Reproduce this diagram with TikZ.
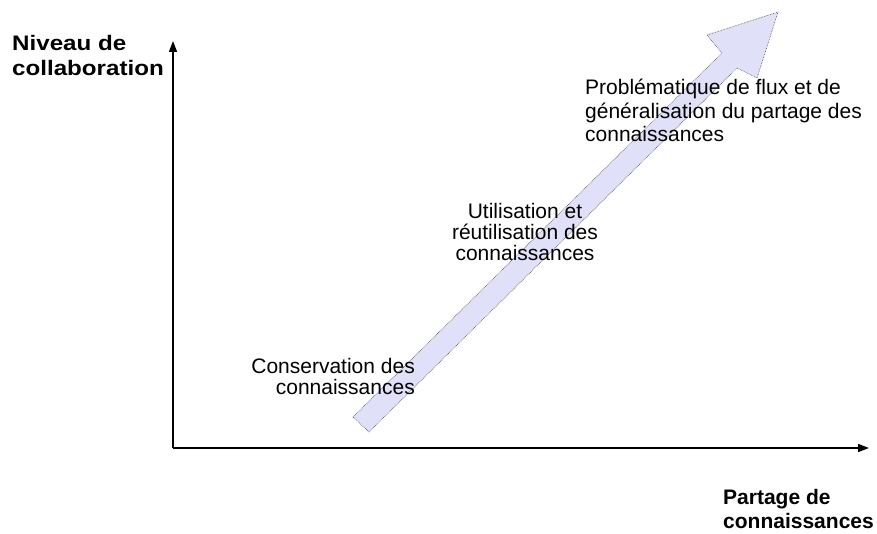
\documentclass[tikz,border=0pt]{standalone}
\usepackage{fontspec}
\setmainfont{Liberation Sans}
\newfontfamily\wideaxisfont{Liberation Sans}[FakeStretch=1.15]
\usetikzlibrary{arrows.meta}

\definecolor{bandfill}{RGB}{224,224,248}
\definecolor{bandline}{RGB}{70,70,70}

\tikzset{
    axis/.style={line width=1.6pt, -{Triangle[length=11pt,width=8pt]}},
    axislabel/.style={inner sep=0pt, anchor=north west, align=left,
        font=#1\bfseries\fontsize{21}{24.5}\selectfont},
    axislabel/.default={},
    stage/.style={inner sep=0pt, font=\fontsize{21}{21}\selectfont}
}

\begin{document}
\begin{tikzpicture}[x=1pt,y=-1pt]
    \useasboundingbox (0,0) rectangle (877,534);
    % the broad arrow
    \coordinate (tailL) at (353,417);
    \coordinate (tailR) at (369,432);
    \coordinate (shaftL) at (722,53);
    \coordinate (shaftR) at (737,68);
    \coordinate (barbL) at (707,35);
    \coordinate (barbR) at (757,78);
    \coordinate (tip) at (778,12);
    \filldraw[fill=bandfill, draw=bandline, densely dotted, line width=0.6pt]
        (tailL) -- (shaftL) -- (barbL) -- (tip) -- (barbR) -- (shaftR) -- (tailR) -- cycle;
    % axes
    \coordinate (origin) at (173,448);
    \coordinate (ytop) at (173,41);
    \coordinate (xend) at (869,448);
    \draw[axis] (origin) -- (ytop);
    \draw[axis] (origin) -- (xend);
    \node[axislabel=\wideaxisfont] (ylab) at (12,35.5) {Niveau de\\collaboration};
    \node[axislabel] (xlab) at (723,489) {Partage de\\connaissances};
    % stages
    \node[stage, anchor=north east, align=right] (keep) at (415,358.5)
        {Conservation des\\connaissances};
    \node[stage, anchor=north, align=center] (reuse) at (525,203.5)
        {Utilisation et\\réutilisation des\\connaissances};
    \node[stage, font=\fontsize{21}{23.5}\selectfont, anchor=north west, align=left] (flow) at (585,79)
        {Problématique de flux et de\\généralisation du partage des\\connaissances};
\end{tikzpicture}
\end{document}
